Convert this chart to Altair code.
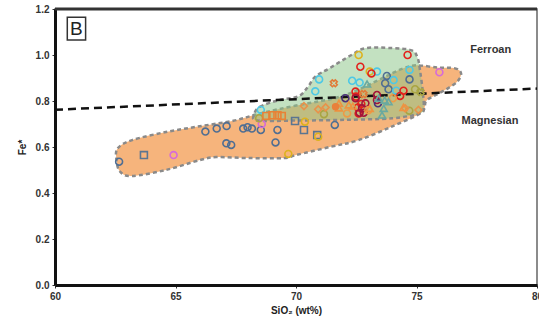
import altair as alt
import pandas as pd

# ---- region outlines (SiO2, Fe*) ----
orange_x = [62.55, 62.6, 63.2, 64.6, 66.0, 67.4, 68.3, 69.3, 70.5, 71.6, 72.5, 73.6, 74.4, 75.0,
            75.9, 76.6, 76.85, 76.7, 76.3, 75.8, 75.4, 75.2, 74.0, 72.6, 71.4, 70.0, 69.5, 68.0,
            66.7, 66.0, 64.6, 63.2, 62.7]
orange_y = [0.545, 0.594, 0.63, 0.665, 0.69, 0.714, 0.74, 0.765, 0.79, 0.812, 0.845, 0.90, 0.94, 0.955,
            0.945, 0.942, 0.92, 0.885, 0.855, 0.826, 0.80, 0.75, 0.69, 0.63, 0.60, 0.565, 0.552, 0.552,
            0.556, 0.543, 0.50, 0.474, 0.493]
green_x = [68.26, 68.5, 69.3, 70.1, 70.5, 70.8, 71.4, 72.3, 72.9, 74.0, 74.8, 75.05, 75.15, 75.25,
           75.3, 75.15, 74.0, 72.0, 70.0, 68.4]
green_y = [0.74, 0.775, 0.804, 0.82, 0.862, 0.906, 0.943, 1.0, 1.03, 1.03, 1.02, 0.986, 0.93, 0.85,
           0.775, 0.747, 0.725, 0.718, 0.715, 0.715]

# ---- ferroan / magnesian boundary ----
bound_x = [60, 80]
bound_y = [0.762, 0.854]

# ---- samples ----
series = {
    "steel": ([62.66, 66.24, 66.71, 67.12, 67.81, 67.99, 68.17, 68.54, 69.23, 67.11, 67.31, 69.15, 71.61,
               73.77, 73.70, 74.71, 73.84],
              [0.536, 0.667, 0.680, 0.691, 0.680, 0.686, 0.680, 0.674, 0.674, 0.616, 0.609, 0.620, 0.696,
               0.909, 0.877, 0.894, 0.851]),
    "slate_sq": ([63.69, 69.96, 70.33, 70.88], [0.565, 0.713, 0.674, 0.652]),
    "magenta": ([64.92, 75.95, 68.58], [0.565, 0.925, 0.70]),
    "gold": ([69.68, 70.37, 70.92, 72.60, 73.06], [0.570, 0.710, 0.645, 1.0, 0.928]),
    "olive": ([68.47, 71.16, 74.70, 74.94], [0.725, 0.743, 0.758, 0.851]),
    "cyan": ([68.54, 70.96, 70.80, 72.33, 72.64, 73.36, 74.05, 74.71, 74.16],
             [0.761, 0.894, 0.842, 0.888, 0.880, 0.928, 0.891, 0.935, 0.845]),
    "red": ([74.63, 72.67, 73.13, 72.47, 72.49, 72.57, 72.71, 72.60, 74.46, 74.32],
            [1.0, 0.949, 0.92, 0.841, 0.819, 0.772, 0.787, 0.746, 0.845, 0.822]),
    "maroon": ([72.88, 72.74, 72.64, 72.81, 73.36, 73.36, 72.47],
               [0.790, 0.768, 0.749, 0.749, 0.826, 0.804, 0.812]),
    "purple": ([72.05, 73.40], [0.812, 0.79]),
    "orange_c": ([74.02, 72.12, 73.0], [0.812, 0.746, 0.76]),
    "orange_sq": ([68.77, 69.02, 69.23, 69.41], [0.735, 0.738, 0.738, 0.735]),
    "orange_di": ([70.33, 70.92, 71.23, 74.53, 75.08], [0.778, 0.764, 0.772, 0.768, 0.761]),
    "orange_tri": ([71.78, 71.78, 72.19, 72.36, 73.06, 74.46], [0.770, 0.790, 0.783, 0.778, 0.768, 0.772]),
    "teal_tri": ([72.95, 73.43, 73.84, 73.64, 73.57, 73.68], [0.874, 0.812, 0.797, 0.768, 0.739, 0.804]),
    "orange_x": ([71.57, 72.8], [0.877, 0.83]),
    "olive_x": ([75.17], [0.839]),
}
filled_x = [71.64]
filled_y = [0.775]

styles = {
    "steel": ("#4F6E93", "circle"),
    "slate_sq": ("#5B7591", "square"),
    "magenta": ("#D66BD9", "circle"),
    "gold": ("#DDB21E", "circle"),
    "olive": ("#A9A543", "circle"),
    "cyan": ("#4DC8E6", "circle"),
    "red": ("#E2211C", "circle"),
    "maroon": ("#A4143A", "circle"),
    "purple": ("#4A2F7A", "circle"),
    "orange_c": ("#EE9A46", "circle"),
    "orange_sq": ("#E88236", "square"),
    "orange_di": ("#E8924A", "diamond"),
    "orange_tri": ("#EE9340", "triangle-up"),
    "teal_tri": ("#6AA9A0", "triangle-up"),
    "orange_x": ("#E07B39", "cross"),
    "olive_x": ("#A9A543", "cross"),
}

XS = alt.Scale(domain=[60, 80], nice=False, zero=False)
YS = alt.Scale(domain=[0, 1.2], nice=False, zero=False)
FONT = "Liberation Sans Narrow, Arial Narrow, Liberation Sans, Arial"

orange_df = pd.DataFrame({"x": orange_x, "y": orange_y, "o": range(len(orange_x))})
green_df = pd.DataFrame({"x": green_x, "y": green_y, "o": range(len(green_x))})

def poly(df, fill, opacity):
    return alt.Chart(df).mark_line(
        interpolate="cardinal-closed", fill=fill, fillOpacity=opacity,
        stroke="#8A8A8A", strokeWidth=2.5, strokeDash=[4, 3]
    ).encode(
        x=alt.X("x:Q", scale=XS, axis=alt.Axis(values=[60, 65, 70, 75, 80], format="d",
                                               title="SiO₂ (wt%)", labelFlush=False)),
        y=alt.Y("y:Q", scale=YS, axis=alt.Axis(values=[0, 0.2, 0.4, 0.6, 0.8, 1.0, 1.2],
                                               format=".1f", title="Fe*", labelFlush=False)),
        order="o:Q",
    )

orange_poly = poly(orange_df, "#F6B47C", 1.0)
green_poly = poly(green_df, "#8CC589", 0.52)

bound = alt.Chart(pd.DataFrame({"x": bound_x, "y": bound_y})).mark_line(
    color="#111", strokeWidth=2.5, strokeDash=[8, 5]
).encode(x=alt.X("x:Q", scale=XS), y=alt.Y("y:Q", scale=YS))

rows = []
for k, (xs, ys) in series.items():
    for a, b in zip(xs, ys):
        rows.append({"x": a, "y": b, "s": k})
pts_df = pd.DataFrame(rows)
keys = list(styles.keys())
pts = alt.Chart(pts_df).mark_point(filled=False, strokeWidth=1.6, size=48, opacity=1).encode(
    x=alt.X("x:Q", scale=XS),
    y=alt.Y("y:Q", scale=YS),
    color=alt.Color("s:N", scale=alt.Scale(domain=keys, range=[styles[k][0] for k in keys]), legend=None),
    shape=alt.Shape("s:N", scale=alt.Scale(domain=keys, range=[styles[k][1] for k in keys]), legend=None),
    angle=alt.condition(alt.FieldOneOfPredicate(field="s", oneOf=["orange_x", "olive_x"]),
                        alt.value(45), alt.value(0)),
)
filled_pt = alt.Chart(pd.DataFrame({"x": filled_x, "y": filled_y})).mark_point(
    filled=True, color="#E8803A", size=55, opacity=1
).encode(x=alt.X("x:Q", scale=XS), y=alt.Y("y:Q", scale=YS))

# top border
top = alt.Chart(pd.DataFrame({"x": [60], "x2": [80], "y": [1.2]})).mark_rule(
    color="#333", strokeWidth=3
).encode(x=alt.X("x:Q", scale=XS), x2="x2:Q", y=alt.Y("y:Q", scale=YS))

# panel label box
box = alt.Chart(pd.DataFrame({"x": [60.51], "x2": [61.27], "y": [1.065], "y2": [1.164]})).mark_rect(
    fill="white", stroke="#333", strokeWidth=1.5
).encode(x=alt.X("x:Q", scale=XS), x2="x2:Q", y=alt.Y("y:Q", scale=YS), y2="y2:Q")
btxt = alt.Chart(pd.DataFrame({"x": [60.89], "y": [1.114], "t": ["B"]})).mark_text(
    fontSize=19, font="Liberation Sans", color="#222", baseline="middle", align="center"
).encode(x=alt.X("x:Q", scale=XS), y=alt.Y("y:Q", scale=YS), text="t:N")

labels = alt.Chart(pd.DataFrame({"x": [78.08, 78.05], "y": [1.022, 0.713], "t": ["Ferroan", "Magnesian"]})).mark_text(
    fontSize=11, fontWeight="bold", font=FONT, color="#333", baseline="middle", align="center"
).encode(x=alt.X("x:Q", scale=XS), y=alt.Y("y:Q", scale=YS), text="t:N")

chart = alt.layer(orange_poly, green_poly, bound, pts, filled_pt, top, box, btxt, labels).properties(
    width=482, height=276,
    autosize=alt.AutoSizeParams(type="none"),
    padding={"left": 55, "top": 9, "right": 2, "bottom": 40},
).configure_view(stroke="#666", strokeWidth=1.5).configure_axis(
    domainColor="#111", domainWidth=3, tickColor="#333", tickSize=3, tickWidth=1,
    labelFont=FONT, labelFontSize=10, labelFontWeight="bold", labelColor="#333",
    titleFont=FONT, titleFontSize=10, titleFontWeight="bold", titleColor="#222",
    grid=False,
).configure_axisX(labelPadding=3, titlePadding=4).configure_axisY(labelPadding=3, titlePadding=8)

chart.save("out.html", embed_options={"renderer": "svg", "actions": False})
